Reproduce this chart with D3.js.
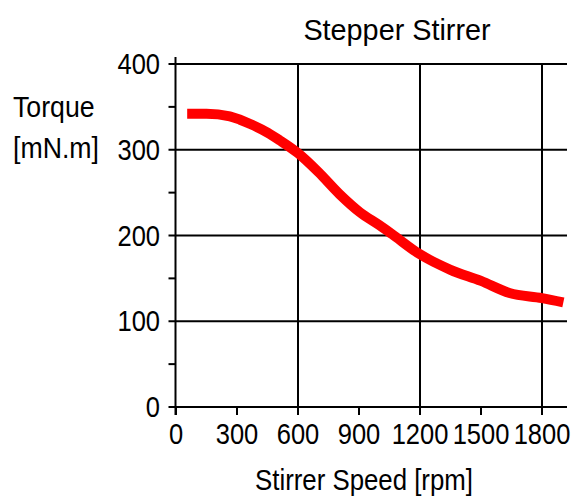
<!DOCTYPE html>
<html>
<head>
<meta charset="utf-8">
<script src="https://cdn.jsdelivr.net/npm/d3@7/dist/d3.min.js"></script>
<style>
html,body{margin:0;padding:0;background:#fff;}
svg{display:block;}
text{font-family:"Liberation Sans",Arial,sans-serif;fill:#000;}
</style>
</head>
<body>
<svg id="chart" width="575" height="497"></svg>
<script>
// Data
const speedRpm = [55, 150, 265, 315, 365, 450, 510, 600, 700, 805, 905, 1000, 1060, 1200, 1350, 1500, 1640, 1800, 1905];
const torqueMNm = [342, 342, 339, 335, 330, 320, 311, 296, 274, 248, 227, 212, 202, 178, 160, 147, 133, 127, 122];
const xTickValues = [0, 300, 600, 900, 1200, 1500, 1800];
const xGridValues = [600, 1200, 1800];
const yTickValues = [0, 100, 200, 300, 400];
const yMinorValues = [50, 150, 250, 350];
const titleText = "Stepper Stirrer";
const xTitle = "Stirrer Speed [rpm]";
const yTitleLines = ["Torque", "[mN.m]"];

const svg = d3.select("#chart");
const x = d3.scaleLinear().domain([0, 1800]).range([176, 542]);
const y = d3.scaleLinear().domain([0, 400]).range([407, 64]);
const xEnd = 567;
const axisLeft = 175.5;

const g = svg.append("g");

// Horizontal grid lines (at labeled y ticks)
g.selectAll("line.hgrid").data(yTickValues).join("line")
  .attr("x1", axisLeft - 7).attr("x2", xEnd)
  .attr("y1", d => y(d)).attr("y2", d => y(d))
  .attr("stroke", "#000").attr("stroke-width", 2);

// Vertical grid lines
g.selectAll("line.vgrid").data(xGridValues).join("line")
  .attr("x1", d => x(d)).attr("x2", d => x(d))
  .attr("y1", y(400)).attr("y2", y(0) + 8)
  .attr("stroke", "#000").attr("stroke-width", 2);

// Minor y ticks
g.selectAll("line.ymin").data(yMinorValues).join("line")
  .attr("x1", axisLeft - 7).attr("x2", axisLeft)
  .attr("y1", d => y(d)).attr("y2", d => y(d))
  .attr("stroke", "#000").attr("stroke-width", 2);

// x ticks (all)
g.selectAll("line.xt").data(xTickValues).join("line")
  .attr("x1", d => x(d)).attr("x2", d => x(d))
  .attr("y1", y(0)).attr("y2", y(0) + 8)
  .attr("stroke", "#000").attr("stroke-width", 2);

// Y axis line
g.append("line")
  .attr("x1", axisLeft).attr("x2", axisLeft)
  .attr("y1", 57).attr("y2", y(0) + 8)
  .attr("stroke", "#000").attr("stroke-width", 2);

// Curve
const line = d3.line()
  .x((d, i) => x(speedRpm[i]))
  .y(d => y(d))
  .curve(d3.curveMonotoneX);
g.append("path")
  .datum(torqueMNm)
  .attr("d", line)
  .attr("fill", "none")
  .attr("stroke", "#ff0000")
  .attr("stroke-width", 10)
  .attr("stroke-linejoin", "round");

// Text helper
function label(txt, px, py, size, sx, anchor) {
  svg.append("text")
    .attr("transform", `translate(${px},${py}) scale(${sx},1)`)
    .attr("text-anchor", anchor)
    .attr("font-size", size)
    .text(txt);
}

// Y tick labels
yTickValues.forEach(v => label(String(v), 160, y(v) + 10, 29, 0.88, "end"));
// X tick labels
xTickValues.forEach(v => label(String(v), x(v), 444, 29, 0.88, "middle"));

// Title
label(titleText, 397, 40, 30, 0.96, "middle");
// Y title
label(yTitleLines[0], 13, 117, 30, 0.89, "start");
label(yTitleLines[1], 13, 158, 30, 0.89, "start");
// X title
label(xTitle, 364, 490, 29, 0.89, "middle");
</script>
</body>
</html>
